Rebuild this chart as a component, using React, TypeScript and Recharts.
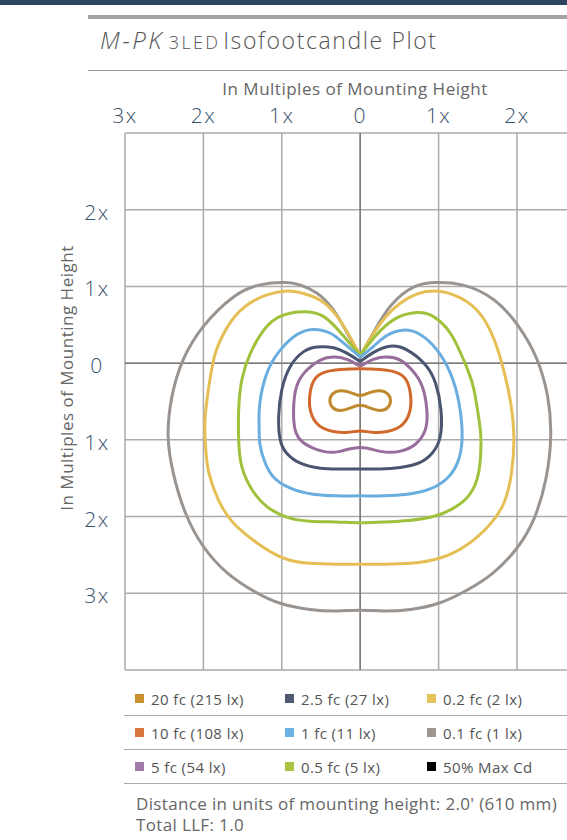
import React from "react";
import { LineChart, Line, XAxis, YAxis, CartesianGrid, ReferenceLine } from "recharts";

type Pt = [number, number];

// axis ticks, in multiples of mounting height
const xTicks = [-3, -2, -1, 0, 1, 2, 3];
const xTickLabels = ["3x", "2x", "1x", "0", "1x", "2x", ""];
const yTicks = [-4, -3, -2, -1, 0, 1, 2, 3];
const yTickLabels = ["", "3x", "2x", "1x", "0", "1x", "2x", ""];

// isofootcandle contours (x, y)
const fc20: Pt[] = [
  [0, -0.45], [-0.13, -0.37], [-0.26, -0.35], [-0.36, -0.39], [-0.4, -0.49], [-0.36, -0.59],
  [-0.26, -0.63], [-0.13, -0.59], [0, -0.53], [0.13, -0.59], [0.26, -0.63], [0.36, -0.59],
  [0.4, -0.49], [0.36, -0.39], [0.26, -0.35], [0.13, -0.37],
];
const fc10: Pt[] = [
  [0, -0.07], [-0.26, -0.08], [-0.47, -0.11], [-0.6, -0.2], [-0.65, -0.41], [-0.65, -0.63],
  [-0.55, -0.83], [-0.34, -0.9], [-0.15, -0.91], [0, -0.87], [0.15, -0.91], [0.34, -0.9],
  [0.55, -0.83], [0.65, -0.63], [0.65, -0.41], [0.6, -0.2], [0.47, -0.11], [0.26, -0.08],
];
const fc5: Pt[] = [
  [0, -0.04], [-0.17, 0.05], [-0.34, 0.08], [-0.51, 0.04], [-0.68, -0.09], [-0.81, -0.3],
  [-0.85, -0.61], [-0.83, -0.87], [-0.72, -1.04], [-0.47, -1.15], [-0.26, -1.15], [0, -1.1],
  [0.26, -1.15], [0.5, -1.15], [0.7, -1.06], [0.83, -0.87], [0.85, -0.61], [0.79, -0.3],
  [0.66, -0.09], [0.51, 0.04], [0.34, 0.08], [0.17, 0.05], [0, -0.04],
];
const fc25: Pt[] = [
  [0, 0.02], [-0.17, 0.13], [-0.34, 0.2], [-0.55, 0.21], [-0.72, 0.15], [-0.89, -0.04],
  [-1.0, -0.35], [-1.04, -0.7], [-1.02, -1.0], [-0.94, -1.17], [-0.77, -1.3], [-0.51, -1.37],
  [-0.26, -1.38], [0, -1.38], [0.26, -1.38], [0.51, -1.36], [0.75, -1.3], [0.92, -1.17],
  [1.02, -0.96], [1.03, -0.61], [0.96, -0.26], [0.83, -0.02], [0.6, 0.17], [0.38, 0.22],
  [0.17, 0.14], [0, 0.02],
];
const fc1: Pt[] = [
  [0, 0.08], [-0.21, 0.26], [-0.38, 0.39], [-0.6, 0.44], [-0.81, 0.37], [-1.02, 0.17],
  [-1.19, -0.13], [-1.28, -0.52], [-1.29, -0.8], [-1.28, -1.05], [-1.22, -1.28], [-1.11, -1.48],
  [-0.89, -1.63], [-0.6, -1.71], [-0.31, -1.73], [0, -1.73], [0.31, -1.73], [0.6, -1.71],
  [0.89, -1.64], [1.11, -1.5], [1.24, -1.3], [1.3, -0.98], [1.26, -0.52], [1.15, -0.13],
  [0.98, 0.17], [0.77, 0.37], [0.55, 0.43], [0.34, 0.36], [0.17, 0.22], [0, 0.08],
];
const fc05: Pt[] = [
  [0, 0.1], [-0.26, 0.41], [-0.47, 0.61], [-0.72, 0.67], [-1.02, 0.61], [-1.23, 0.43],
  [-1.4, 0.13], [-1.51, -0.22], [-1.55, -0.61], [-1.55, -1.0], [-1.51, -1.35], [-1.38, -1.65],
  [-1.19, -1.87], [-0.93, -2.01], [-0.64, -2.06], [-0.31, -2.07], [0, -2.08], [0.31, -2.07],
  [0.62, -2.05], [0.93, -2.0], [1.19, -1.89], [1.39, -1.72], [1.51, -1.43], [1.54, -1.0],
  [1.51, -0.7], [1.44, -0.3], [1.32, 0.04], [1.15, 0.39], [0.93, 0.61], [0.72, 0.66],
  [0.45, 0.58], [0.2, 0.36], [0, 0.1],
];
const fc02: Pt[] = [
  [0, 0.1], [-0.26, 0.56], [-0.51, 0.82], [-0.77, 0.92], [-0.93, 0.94], [-1.19, 0.89],
  [-1.49, 0.72], [-1.7, 0.46], [-1.85, 0.12], [-1.93, -0.3], [-1.98, -0.74], [-1.97, -1.12],
  [-1.93, -1.43], [-1.81, -1.78], [-1.62, -2.08], [-1.32, -2.34], [-0.98, -2.54], [-0.64, -2.61],
  [-0.3, -2.62], [0, -2.62], [0.3, -2.62], [0.64, -2.61], [1.02, -2.54], [1.36, -2.37],
  [1.64, -2.12], [1.83, -1.83], [1.93, -1.43], [1.96, -0.95], [1.92, -0.52], [1.83, -0.09],
  [1.7, 0.33], [1.49, 0.69], [1.19, 0.89], [0.93, 0.94], [0.72, 0.9], [0.51, 0.78],
  [0.26, 0.52], [0, 0.1],
];
const fc01: Pt[] = [
  [0, 0.09], [-0.17, 0.4], [-0.34, 0.69], [-0.55, 0.91], [-0.77, 1.02], [-0.96, 1.05],
  [-1.28, 1.02], [-1.62, 0.86], [-2.0, 0.48], [-2.26, 0.04], [-2.4, -0.43], [-2.45, -0.95],
  [-2.38, -1.45], [-2.23, -1.95], [-2.0, -2.39], [-1.7, -2.73], [-1.36, -2.97], [-1.02, -3.13],
  [-0.64, -3.21], [-0.3, -3.23], [0, -3.22], [0.3, -3.23], [0.64, -3.21], [1.0, -3.13],
  [1.36, -2.96], [1.7, -2.73], [2.0, -2.41], [2.22, -2.02], [2.37, -1.5], [2.43, -0.95],
  [2.39, -0.43], [2.25, 0.06], [2.02, 0.48], [1.7, 0.83], [1.3, 1.02], [0.95, 1.05],
  [0.68, 0.99], [0.4, 0.76], [0.18, 0.42], [0, 0.09],
];

const legendLabels = [
  "20 fc (215 lx)", "2.5 fc (27 lx)", "0.2 fc (2 lx)",
  "10 fc (108 lx)", "1 fc (11 lx)", "0.1 fc (1 lx)",
  "5 fc (54 lx)", "0.5 fc (5 lx)", "50% Max Cd",
];
const legendColors = [
  "#c8902e", "#4e5a70", "#e6c25a",
  "#d9743a", "#6cb2e4", "#9c9793",
  "#a07aa8", "#a8c440", "#000000",
];

const series = [
  { name: "0.1 fc", pts: fc01, color: "#9a9490", curve: "natural" },
  { name: "0.2 fc", pts: fc02, color: "#e5bf55", curve: "natural" },
  { name: "0.5 fc", pts: fc05, color: "#9fc13c", curve: "natural" },
  { name: "1 fc", pts: fc1, color: "#6aaee0", curve: "natural" },
  { name: "2.5 fc", pts: fc25, color: "#4a5570", curve: "natural" },
  { name: "5 fc", pts: fc5, color: "#976d9c", curve: "natural" },
  { name: "10 fc", pts: fc10, color: "#d2692c", curve: "basisClosed" },
  { name: "20 fc", pts: fc20, color: "#bf8a2e", curve: "basisClosed" },
];

const toObjs = (pts: Pt[]) => pts.map(([x, y]) => ({ x, y }));

const FONT = "'Open Sans', sans-serif";
const NAVY = "#34506b";

const XTick = ({ x, y, payload }: any) => {
  const i = xTicks.indexOf(payload.value);
  return (
    <text x={x} y={y} textAnchor="middle" fill={NAVY} fontSize={21} fontWeight={300} fontFamily={FONT} letterSpacing={1.5}>
      {xTickLabels[i]}
    </text>
  );
};

const YTick = ({ x, y, payload }: any) => {
  const i = yTicks.indexOf(payload.value);
  return (
    <text x={x} y={y} dy={10} textAnchor="middle" fill={NAVY} fontSize={21} fontWeight={300} fontFamily={FONT} letterSpacing={1.5}>
      {yTickLabels[i]}
    </text>
  );
};

export default function App() {
  return (
    <div
      style={{
        position: "absolute",
        left: 0,
        top: 0,
        width: 567,
        height: 840,
        overflow: "hidden",
        background: "#fff",
        fontFamily: FONT,
      }}
    >
      <div style={{ position: "absolute", left: 0, top: 0, width: 567, height: 5, background: "#2b4560" }} />
      <div style={{ position: "absolute", left: 88, top: 15, width: 480, height: 4, background: "#a3a3a3" }} />
      <div
        style={{
          position: "absolute",
          left: 100,
          top: 28,
          fontSize: 23,
          lineHeight: "23px",
          color: "#555",
          fontWeight: 300,
          whiteSpace: "nowrap",
        }}
      >
        <span style={{ fontStyle: "italic", fontSize: 24, letterSpacing: 2.5 }}>M-PK</span>
        <span style={{ fontSize: 18, marginLeft: 5, letterSpacing: 2.3 }}>3LED</span>
        <span style={{ marginLeft: 3, letterSpacing: 1.6 }}>Isofootcandle Plot</span>
      </div>
      <div style={{ position: "absolute", left: 88, top: 70, width: 480, height: 1, background: "#999" }} />
      <div
        style={{
          position: "absolute",
          left: 205,
          width: 300,
          top: 80,
          textAlign: "center",
          fontSize: 17,
          lineHeight: "17px",
          letterSpacing: 0.5,
          color: "#666",
          whiteSpace: "nowrap",
        }}
      >
        In Multiples of Mounting Height
      </div>
      <div
        style={{
          position: "absolute",
          left: 67 - 150,
          top: 378 - 10,
          width: 300,
          height: 20,
          lineHeight: "20px",
          textAlign: "center",
          fontSize: 17,
          letterSpacing: 0.5,
          color: "#666",
          whiteSpace: "nowrap",
          transform: "rotate(-90deg)",
        }}
      >
        In Multiples of Mounting Height
      </div>

      <div style={{ position: "absolute", left: 0, top: 0 }}>
        <LineChart width={620} height={680} margin={{ top: 103, right: 24.6, bottom: 10, left: 75 }}>
          <CartesianGrid stroke="#ababab" strokeWidth={1.5} />
          <XAxis
            type="number"
            dataKey="x"
            orientation="top"
            domain={[-3, 3]}
            ticks={xTicks}
            allowDataOverflow
            height={30}
            axisLine={false}
            tickLine={false}
            tickSize={0}
            tickMargin={10}
            tick={<XTick />}
          />
          <YAxis
            type="number"
            dataKey="y"
            domain={[-4, 3]}
            ticks={yTicks}
            allowDataOverflow
            width={50}
            axisLine={false}
            tickLine={false}
            tickSize={0}
            tickMargin={28}
            tick={<YTick />}
            interval={0}
          />
          <ReferenceLine x={0} stroke="#7a7a7a" strokeWidth={1.5} />
          <ReferenceLine y={0} stroke="#7a7a7a" strokeWidth={1.5} />
          {series.map((s) => (
            <Line
              key={s.name}
              name={s.name}
              data={toObjs(s.pts)}
              dataKey="y"
              type={s.curve as any}
              stroke={s.color}
              strokeWidth={3}
              dot={false}
              activeDot={false}
              isAnimationActive={false}
            />
          ))}
        </LineChart>
      </div>

      <div style={{ position: "absolute", left: 124, top: 682, width: 443 }}>
        {[0, 1, 2].map((r) => (
          <div
            key={r}
            style={{ position: "relative", height: 33, borderBottom: "1.5px solid #aaa" }}
          >
            {[0, 1, 2].map((c) => {
              const i = r * 3 + c;
              return (
                <div
                  key={c}
                  style={{
                    position: "absolute",
                    left: [11, 161, 303][c],
                    top: 0,
                    height: 33,
                    display: "flex",
                    alignItems: "center",
                    fontSize: 15,
                    letterSpacing: 0.4,
                    color: "#555",
                    whiteSpace: "nowrap",
                  }}
                >
                  <span
                    style={{ display: "inline-block", width: 9, height: 9, background: legendColors[i], marginRight: 7 }}
                  />
                  {legendLabels[i]}
                </div>
              );
            })}
          </div>
        ))}
      </div>

      <div
        style={{
          position: "absolute",
          left: 136,
          top: 793,
          fontSize: 17,
          lineHeight: "21px",
          letterSpacing: 0.35,
          color: "#666",
          whiteSpace: "nowrap",
        }}
      >
        Distance in units of mounting height: 2.0' (610 mm)
        <br />
        Total LLF: 1.0
      </div>
    </div>
  );
}
